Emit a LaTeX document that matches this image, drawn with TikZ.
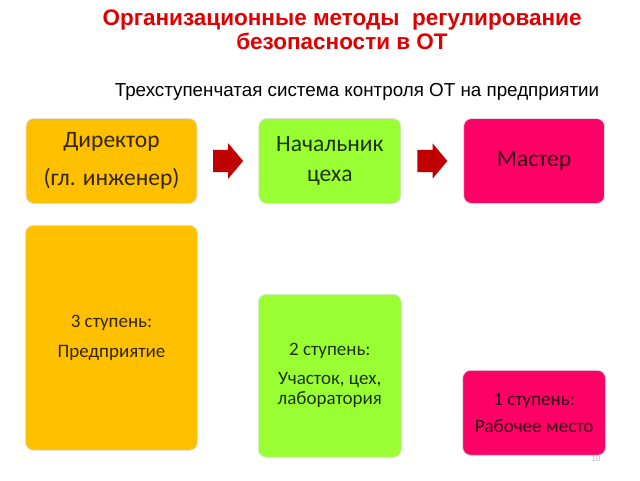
\documentclass[tikz,border=0pt]{standalone}
\usepackage{fontspec}
\setmainfont{Carlito}
\newfontfamily\headfont{Liberation Sans}
\usetikzlibrary{positioning, shapes.arrows, calc}
\definecolor{amber}{HTML}{FFC000}
\definecolor{lime}{HTML}{99FF33}
\definecolor{rose}{HTML}{FF0066}
\definecolor{arrowred}{HTML}{C00000}
\definecolor{titlered}{HTML}{E00000}

\begin{document}
\begin{tikzpicture}[x=1pt, y=-1pt,
    box/.style={draw=black!12, line width=0.8pt, rounded corners=8pt, align=center,
                text opacity=0.8, inner sep=0pt},
    bigbox/.style={box, font=\fontsize{23.5}{28}\selectfont, minimum height=85pt},
    stagebox/.style={box, font=\fontsize{19}{20.5}\selectfont},
    blockarrow/.style={single arrow, fill=arrowred, minimum height=30pt, inner xsep=0pt,
                       inner ysep=11pt, single arrow head extend=6.5pt, single arrow tip angle=100,
                       xshift=-4.5pt}]
        \useasboundingbox (0,0) rectangle (640,480);

        % Headings
        \node[text=titlered, font=\headfont\bfseries\fontsize{22.5}{24}\selectfont, align=center]
            (title) at (342,30) {Организационные методы\ \ регулирование\\безопасности в ОТ};
        \node[font=\headfont\fontsize{18.8}{20}\selectfont] (subtitle) at (357,92)
            {Трехступенчатая система контроля ОТ на предприятии};

        % Draw the top row
        \node[bigbox, fill=amber, minimum width=171pt]            (dir)    at (111.5,161) {Директор\\[10pt](гл. инженер)};
        \node[bigbox, fill=lime, minimum width=142pt, right=61pt of dir]   (nach)   {Начальник\\[2pt]цеха};
        \node[bigbox, fill=rose, minimum width=141pt, right=62pt of nach]  (master) {Мастер};

        % Draw the stages
        \node[stagebox, fill=amber, minimum width=172pt, minimum height=225pt, below=21pt of dir]  (stage3)
            {3 ступень:\\[9pt]Предприятие};
        \node[stagebox, fill=lime, minimum width=143pt, minimum height=163pt, below=90pt of nach]  (stage2)
            {2 ступень:\\[8pt]Участок, цех,\\лаборатория};
        \node[stagebox, fill=rose, minimum width=143pt, minimum height=85pt, below=166pt of master] (stage1)
            {1 ступень:\\[7pt]Рабочее место};

        % Connect the top row with block arrows
        \node[blockarrow] (a1) at ($(dir.east)!0.5!(nach.west)$) {};
        \node[blockarrow] (a2) at ($(nach.east)!0.5!(master.west)$) {};

        \node[text=black!30, font=\headfont\fontsize{8}{8}\selectfont] (pagenum) at (596,459) {10};
\end{tikzpicture}
\end{document}
